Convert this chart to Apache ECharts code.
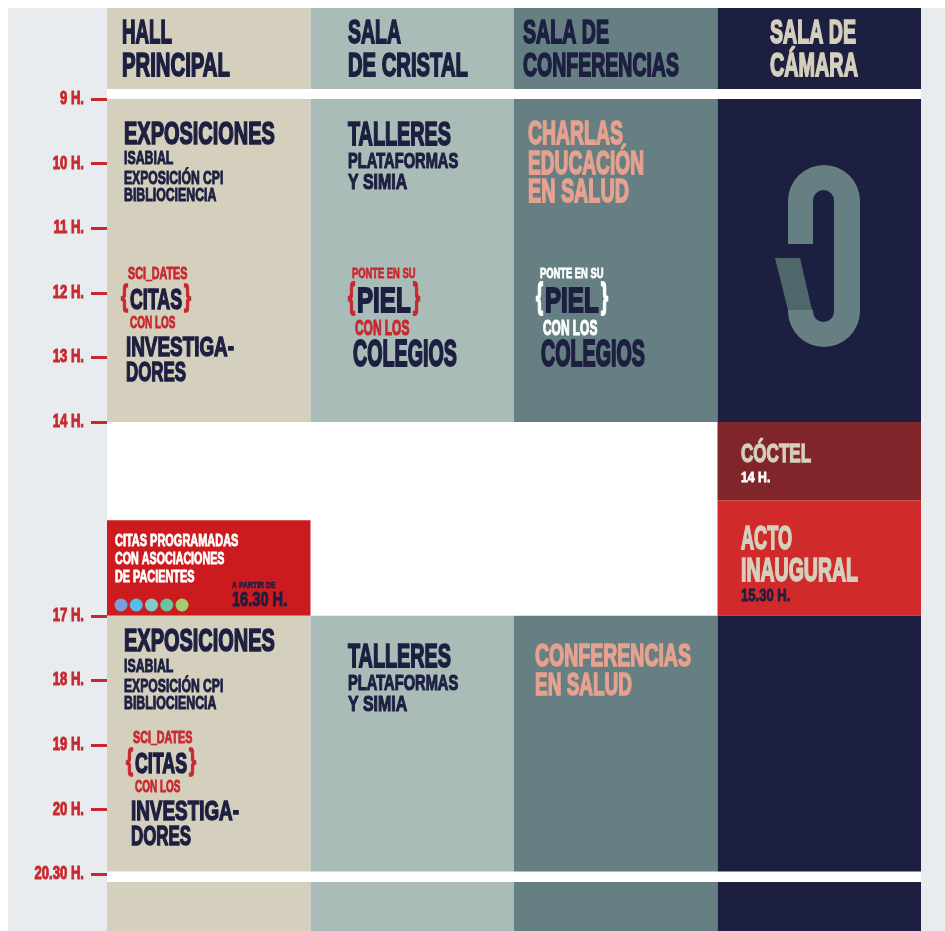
<!DOCTYPE html>
<html><head><meta charset="utf-8">
<script src="https://cdn.jsdelivr.net/npm/echarts@6/dist/echarts.min.js"></script>
<style>html,body{margin:0;padding:0;background:#fff}#c{width:945px;height:931px}</style>
</head><body><div id="c"></div><script>
// ---------- data ----------
const rooms = ['HALL\nPRINCIPAL', 'SALA\nDE CRISTAL', 'SALA DE\nCONFERENCIAS', 'SALA DE\nCÁMARA'];
const hourTicks = [9, 10, 11, 12, 13, 14, 17, 18, 19, 20, 21];
const hourLabels = ['9 H.', '10 H.', '11 H.', '12 H.', '13 H.', '14 H.', '17 H.', '18 H.', '19 H.', '20 H.', '20.30 H.'];
const axisMin = 7.59, axisMax = 21.88;
// [room, start, end, kind]
const headerBlocks = [[0, 7.59, 8.845, 'room'], [1, 7.59, 8.845, 'room'], [2, 7.59, 8.845, 'room'], [3, 7.59, 8.845, 'room']];
const morningBlocks = [[0, 9, 14, 'room'], [1, 9, 14, 'room'], [2, 9, 14, 'room'], [3, 9, 14, 'room']];
const middayBlocks = [[3, 14, 15.21, 'coctel'], [3, 15.21, 17, 'acto'], [0, 15.52, 17, 'citas']];
const afternoonBlocks = [[0, 17, 20.96, 'room'], [1, 17, 20.96, 'room'], [2, 17, 20.96, 'room'], [3, 17, 20.96, 'room']];
const closingBlocks = [[0, 21.12, 21.88, 'room'], [1, 21.12, 21.88, 'room'], [2, 21.12, 21.88, 'room'], [3, 21.12, 21.88, 'room']];
const schedule = [].concat(headerBlocks, morningBlocks, middayBlocks, afternoonBlocks, closingBlocks);

// ---------- styles / layout ----------
const FONT = '"Liberation Sans", Arial, sans-serif';
const COLORS = {navy: '#1d1f40', red: '#c8282e', salmon: '#e6a18f', beige: '#d5cfbd', white: '#ffffff'};
const roomColors = ['#d5cfbd', '#a9bcb8', '#657f83', '#1d1f40'];
const kindColors = {coctel: '#80252a', acto: '#d12a2b', citas: '#cc1b1f'};
const patientDots = ['#7a9fd6', '#55bde9', '#7fcaca', '#6bc3a1', '#a4cd6f'];

// line: [text, colorKey, capHeight, dx, dy, width]
const templates = {
  exposiciones: [
    ['EXPOSICIONES', 'navy', 24, 0, 0, 152],
    ['ISABIAL', 'navy', 14, 0, 24, 50],
    ['EXPOSICIÓN CPI', 'navy', 14, 0, 44, 100],
    ['BIBLIOCIENCIA', 'navy', 14, 0, 61, 93]
  ],
  sci: [
    ['SCI_DATES', 'red', 13, 7, 0, 60],
    ['{', 'red', 22, 0, 23.5, 8], ['CITAS', 'navy', 22, 9, 26.5, 53], ['}', 'red', 22, 63, 23.5, 8],
    ['CON LOS', 'red', 13, 9, 49, 46],
    ['INVESTIGA-', 'navy', 21, 5, 74, 109],
    ['DORES', 'navy', 21, 5, 98.5, 61]
  ],
  talleres: [
    ['TALLERES', 'navy', 25, 0, 0, 104],
    ['PLATAFORMAS', 'navy', 17, 0, 26, 111],
    ['Y SIMIA', 'navy', 17, 0, 47, 60]
  ],
  charlas: [
    ['CHARLAS', 'salmon', 25, 0, 0, 96],
    ['EDUCACIÓN', 'salmon', 25, 0, 30.5, 117],
    ['EN SALUD', 'salmon', 25, 0, 58, 102]
  ],
  ponte: [
    ['PONTE EN SU', 'accent', 11, 4, 0, 64],
    ['{', 'accent', 27, 0, 25, 8], ['PIEL', 'navy', 27, 9, 28.5, 55], ['}', 'accent', 27, 65, 25, 8],
    ['CON LOS', 'accent', 17, 7, 55, 55],
    ['COLEGIOS', 'navy', 28, 5, 82.5, 105]
  ],
  conferencias: [
    ['CONFERENCIAS', 'salmon', 24, 0, 0, 157],
    ['EN SALUD', 'salmon', 24, 0, 29, 98]
  ],
  coctel: [
    ['CÓCTEL', 'beige', 20, 0, 0, 71],
    ['14 H.', 'white', 11, 0, 23, 30]
  ],
  acto: [
    ['ACTO', 'beige', 25, 0, 0, 52],
    ['INAUGURAL', 'beige', 25, 0, 32.5, 118],
    ['15.30 H.', 'navy', 13, 0, 57, 50]
  ],
  citasProg: [
    ['CITAS PROGRAMADAS', 'white', 13, 0, 0, 124],
    ['CON ASOCIACIONES', 'white', 13, 0, 18, 110],
    ['DE PACIENTES', 'white', 13, 0, 35.5, 80],
    ['A PARTIR DE', 'navy', 7, 117, 44.5, 44],
    ['16.30 H.', 'navy', 15, 117, 59, 56]
  ]
};
const headerLayout = [
  {dx: 15, color: 'navy', w: [51, 109]},
  {dx: 37.5, color: 'navy', w: [54, 121]},
  {dx: 9, color: 'navy', w: [87, 157]},
  {dx: 52.5, color: 'beige', w: [87, 89]}
];
rooms.forEach((name, r) => {
  templates['header' + r] = name.split('\n').map((s, i) => [s, headerLayout[r].color, 25, 0, i * 33, headerLayout[r].w[i]]);
});

const labelPlacements = [
  {room: 0, t: axisMin, dx: 15, dy: 26, tpl: 'header0'},
  {room: 1, t: axisMin, dx: 37.5, dy: 26, tpl: 'header1'},
  {room: 2, t: axisMin, dx: 9, dy: 26, tpl: 'header2'},
  {room: 3, t: axisMin, dx: 52.5, dy: 26, tpl: 'header3'},
  {room: 0, t: 9, dx: 17, dy: 36, tpl: 'exposiciones'},
  {room: 0, t: 9, dx: 14, dy: 175.5, tpl: 'sci'},
  {room: 1, t: 9, dx: 37.5, dy: 37, tpl: 'talleres'},
  {room: 2, t: 9, dx: 14, dy: 35.5, tpl: 'charlas'},
  {room: 1, t: 9, dx: 37.5, dy: 174.5, tpl: 'ponte', accent: 'red'},
  {room: 2, t: 9, dx: 22, dy: 174.5, tpl: 'ponte', accent: 'white'},
  {room: 3, t: 14, dx: 23.5, dy: 33, tpl: 'coctel'},
  {room: 3, t: 15.21, dx: 23.5, dy: 39.5, tpl: 'acto'},
  {room: 0, t: 15.52, dx: 8, dy: 21.3, tpl: 'citasProg', dots: true},
  {room: 0, t: 17, dx: 17, dy: 27, tpl: 'exposiciones'},
  {room: 0, t: 17, dx: 19, dy: 123, tpl: 'sci'},
  {room: 1, t: 17, dx: 37.5, dy: 42, tpl: 'talleres'},
  {room: 2, t: 17, dx: 21, dy: 42, tpl: 'conferencias'}
];

const mctx = document.createElement('canvas').getContext('2d');
function natWidth(text, size) {
  mctx.font = 'bold ' + size + 'px ' + FONT;
  return mctx.measureText(text).width;
}
// condensed "poster" text: Liberation Sans Bold squeezed horizontally, lightly stroked for weight
function makeText(text, fill, cap, x, y, w, align) {
  const lw = Math.max(0.6, cap * 0.07);
  const size = (cap - lw) / 0.716;
  const nw = natWidth(text, size);
  return {
    type: 'text', x: x, y: y, scaleX: w / (nw + lw), scaleY: 1,
    style: {
      text: text, fill: fill, stroke: fill, lineWidth: lw, lineJoin: 'round',
      font: 'bold ' + size + 'px ' + FONT, align: align || 'left', verticalAlign: 'middle'
    }
  };
}
// tick label condense factor from the "10 H." reference width
const TICK_CAP = 14;
const tickScale = (function () {
  const lw = Math.max(0.6, TICK_CAP * 0.07);
  const size = (TICK_CAP - lw) / 0.716;
  return 32 / (natWidth('10 H.', size) + lw);
})();

const chart = echarts.init(document.getElementById('c'), null, {renderer: 'canvas'});
chart.setOption({
  animation: false,
  backgroundColor: '#ffffff',
  graphic: [
    {type: 'rect', z: -10, left: 8, top: 8, shape: {width: 99, height: 923}, style: {fill: '#e8ecee'}},
    {type: 'rect', z: -10, left: 921, top: 8, shape: {width: 24, height: 923}, style: {fill: '#e8ecee'}}
  ],
  grid: {left: 107, right: 24, top: 8, bottom: 0},
  xAxis: {type: 'category', data: rooms, show: false},
  yAxis: {
    type: 'value', inverse: true, min: axisMin, max: axisMax,
    axisLine: {show: false}, splitLine: {show: false},
    axisTick: {show: true, customValues: hourTicks, length: 16, lineStyle: {color: COLORS.red, width: 3}},
    axisLabel: {show: false}
  },
  series: [
    {
      type: 'custom', clip: false, z: 2,
      data: schedule.map(d => [d[0], d[1], d[2]]),
      renderItem: function (params, api) {
        const d = schedule[params.dataIndex];
        const c0 = api.coord([api.value(0), api.value(1)]);
        const c1 = api.coord([api.value(0), api.value(2)]);
        const bw = api.size([1, 0])[0];
        const fill = d[3] === 'room' ? roomColors[d[0]] : kindColors[d[3]];
        return {type: 'rect', shape: {x: c0[0] - bw / 2, y: c0[1], width: bw, height: c1[1] - c0[1]}, style: {fill: fill}};
      }
    },
    {
      // hour labels of the time axis, placed by the y scale
      type: 'custom', clip: false, z: 3,
      data: hourTicks.map(v => [0, v]),
      renderItem: function (params, api) {
        const c = api.coord([0, api.value(1)]);
        const bw = api.size([1, 0])[0];
        const label = hourLabels[params.dataIndex];
        const lw = Math.max(0.6, TICK_CAP * 0.07);
        const size = (TICK_CAP - lw) / 0.716;
        const w = (natWidth(label, size) + lw) * tickScale;
        return makeText(label, COLORS.red, TICK_CAP, c[0] - bw / 2 - 23, c[1], w, 'right');
      }
    },
    {
      type: 'custom', clip: false, z: 3,
      data: [[3, 9]],
      renderItem: function (params, api) {
        const c = api.coord([api.value(0), api.value(1)]);
        const bw = api.size([1, 0])[0];
        const L = c[0] - bw / 2, Y = c[1];
        return {type: 'group', children: [
          {type: 'rect', shape: {x: L + 70.5, y: Y + 66, width: 72, height: 182, r: 36}, style: {fill: '#657f83'}},
          {type: 'rect', shape: {x: L + 95.5, y: Y + 91, width: 21, height: 132, r: 10.5}, style: {fill: '#1d1f40'}},
          {type: 'rect', shape: {x: L + 69, y: Y + 145, width: 27, height: 66}, style: {fill: '#1d1f40'}},
          {type: 'polygon', shape: {points: [[L + 57.5, Y + 159], [L + 82.5, Y + 159], [L + 94.5, Y + 211], [L + 70.5, Y + 211]]}, style: {fill: '#4f666a'}}
        ]};
      }
    },
    {
      type: 'custom', clip: false, z: 4,
      data: labelPlacements.map(p => [p.room, p.t]),
      renderItem: function (params, api) {
        const p = labelPlacements[params.dataIndex];
        const c = api.coord([api.value(0), api.value(1)]);
        const bw = api.size([1, 0])[0];
        const x0 = c[0] - bw / 2 + p.dx, y0 = c[1] + p.dy;
        const children = templates[p.tpl].map(l => {
          const key = l[1] === 'accent' ? p.accent : l[1];
          return makeText(l[0], COLORS[key], l[2], x0 + l[3], y0 + l[4], l[5]);
        });
        if (p.dots) {
          patientDots.forEach((col, i) => {
            children.push({type: 'circle', shape: {cx: x0 + 6 + i * 15.25, cy: y0 + 63.5, r: 6.5}, style: {fill: col}});
          });
        }
        return {type: 'group', children: children};
      }
    }
  ]
});
</script></body></html>
